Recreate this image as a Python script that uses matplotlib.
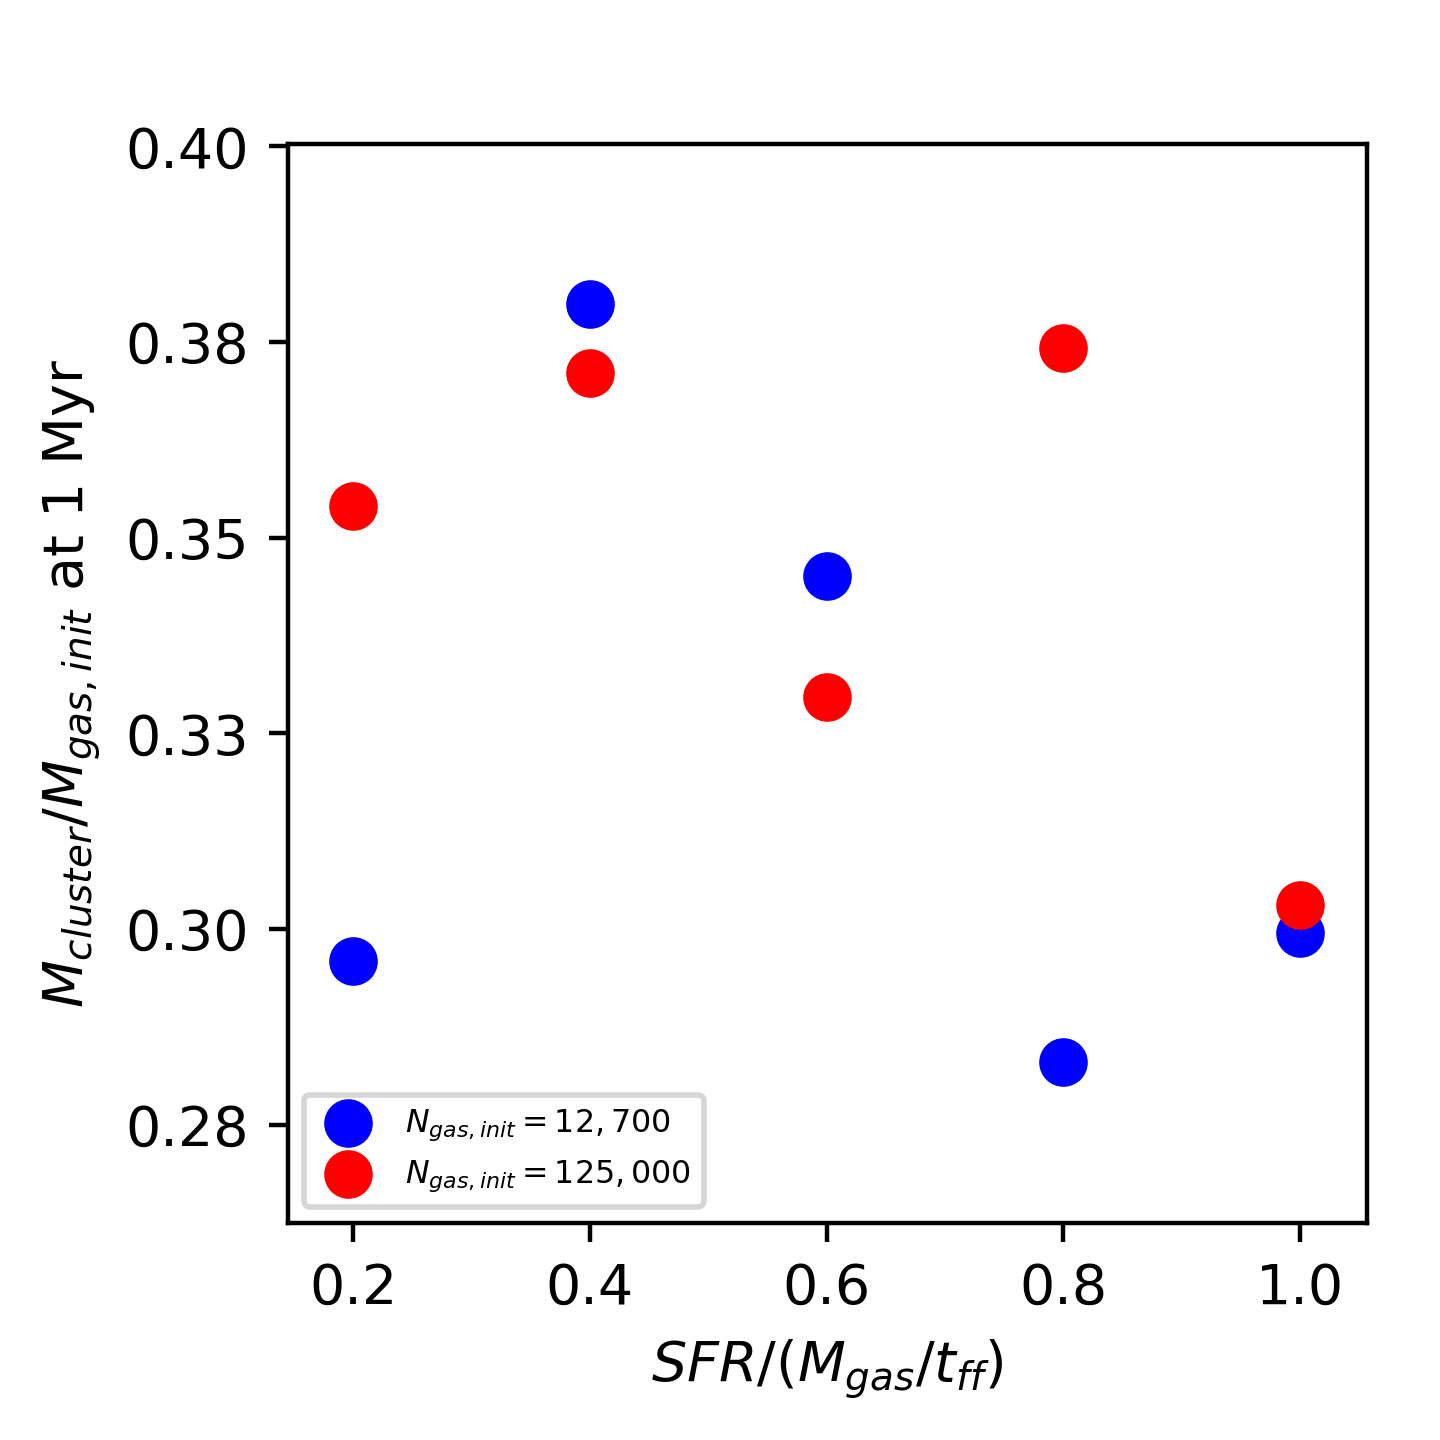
import matplotlib
matplotlib.use("Agg")
import matplotlib.pyplot as plt
from matplotlib.ticker import FormatStrFormatter

# star formation rate (in units of M_gas / t_ff)
sfr = [0.2, 0.4, 0.6, 0.8, 1.0]
# cluster mass fraction at 1 Myr
frac_low = [0.2959, 0.3798, 0.3451, 0.2830, 0.2995]     # N_gas,init = 12,700
frac_high = [0.3541, 0.3711, 0.3297, 0.3742, 0.3031]    # N_gas,init = 125,000
ytick_vals = [0.275, 0.300, 0.325, 0.350, 0.375, 0.400]

fig = plt.figure(figsize=(3.6, 3.6), dpi=400)
ax = fig.add_axes([0.2, 0.151, 0.749, 0.749])
ax.scatter(sfr, frac_low, s=60, c='blue', label=r'$N_{gas,init} = 12,700$')
ax.scatter(sfr, frac_high, s=60, c='red', label=r'$N_{gas,init} = 125,000$')
ax.set_xlim(0.145, 1.056)
ax.set_ylim(0.2625, 0.4003)
ax.set_xticks(sfr)
ax.set_yticks(ytick_vals)
ax.yaxis.set_major_formatter(FormatStrFormatter('%.2f'))
ax.set_xlabel(r'$SFR/(M_{gas}/t_{ff})$')
ax.set_ylabel(r'$M_{cluster}/M_{gas,init}$ at 1 Myr')
ax.legend(loc='lower left', fontsize=5.7)
fig.savefig('out.png', dpi=400)
